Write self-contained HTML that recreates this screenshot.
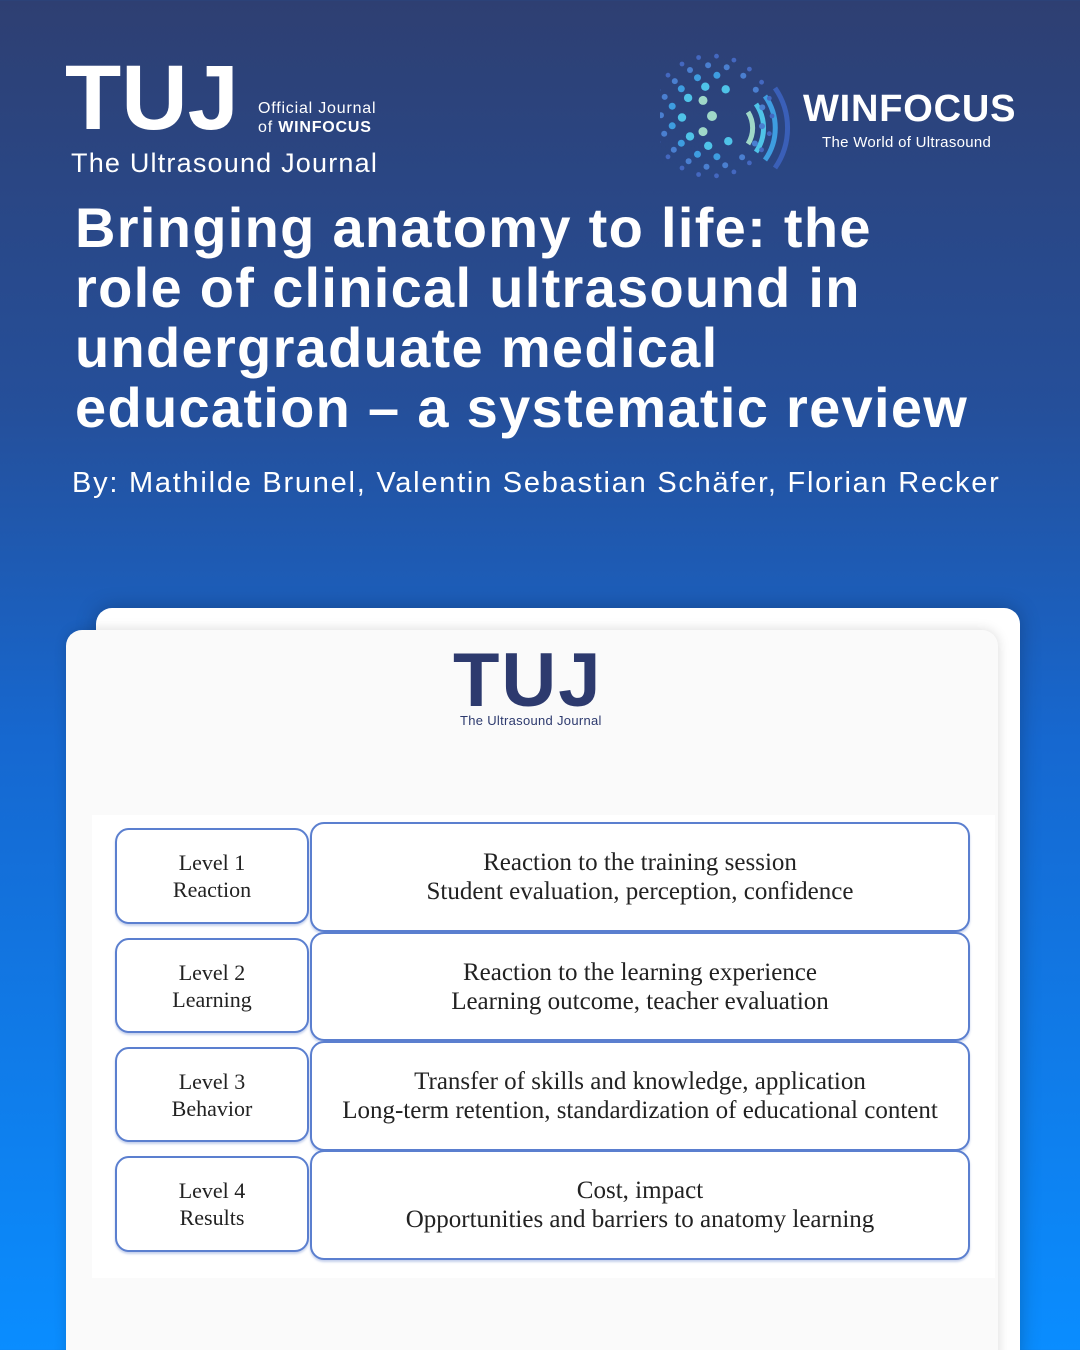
<!DOCTYPE html>
<html><head><meta charset="utf-8">
<style>
*{margin:0;padding:0;box-sizing:border-box}
html{width:1080px;height:1350px;overflow:hidden}
body{width:1080px;height:1350px;overflow:hidden;position:relative;font-family:"Liberation Sans",sans-serif;
background:linear-gradient(180deg,#2e3f72 0%,#254f9a 30%,#1668d0 55%,#0a8dff 100%);color:#fff}
.abs{position:absolute;white-space:nowrap}
.tuj{left:65px;top:52px;font-size:92px;font-weight:bold;letter-spacing:0px;line-height:1}
.off{left:258px;top:99px;font-size:16px;line-height:19px;letter-spacing:0.8px}
.sub{left:71px;top:148px;font-size:27px;letter-spacing:1.2px}
.win{left:803px;top:88px;font-size:38px;font-weight:bold;letter-spacing:0.8px}
.wsub{left:822px;top:134px;font-size:15px;letter-spacing:0.3px}
.title{left:75px;top:198px;font-size:56px;font-weight:bold;line-height:60px;letter-spacing:1.3px}
.auth{left:72px;top:467px;font-size:29px;letter-spacing:1.75px}
.card2{left:96px;top:608px;width:924px;height:760px;background:#fff;border-radius:16px;box-shadow:0 0 20px rgba(0,0,0,.25)}
.card1{left:66px;top:630px;width:932px;height:760px;background:#fafafa;border-radius:16px;box-shadow:0 0 12px rgba(0,0,0,.15)}
.inner{left:92px;top:815px;width:903px;height:463px;background:#fff}
.lt{left:453px;top:643px;font-size:76px;font-weight:bold;color:#2d3a6e;letter-spacing:2px;line-height:1}
.ls{left:460px;top:713px;font-size:13px;color:#2d3a6e;letter-spacing:0.3px}
.box{position:absolute;border:2px solid #5b7fcf;border-radius:14px;background:#fff;display:flex;align-items:center;justify-content:center;text-align:center;font-family:"Liberation Serif",serif;color:#222;font-size:25px;line-height:29px;box-shadow:0 2px 2px rgba(90,120,200,.35)}
.l{left:115px;width:194px;font-size:22px;line-height:27px}
.r{left:310px;width:660px}
</style></head><body>
<div class="abs tuj">TUJ</div>
<div class="abs off">Official Journal<br>of <b>WINFOCUS</b></div>
<div class="abs sub">The Ultrasound Journal</div>
<svg class="abs" style="left:660px;top:50px" width="140" height="135" id="dots">
<path d="M115 38 A70 70 0 0 1 115 118" stroke="#3a5fb8" stroke-width="5" fill="none"/>
<path d="M105 46 A55 55 0 0 1 105 110" stroke="#3e9de0" stroke-width="5" fill="none"/>
<path d="M96 54 A42 42 0 0 1 96 102" stroke="#4fc3e8" stroke-width="5" fill="none"/>
<path d="M88 62 A30 30 0 0 1 88 94" stroke="#9fd8c8" stroke-width="5" fill="none"/>
</svg>
<div class="abs win">WINFOCUS</div>
<div class="abs wsub">The World of Ultrasound</div>
<div class="abs title">Bringing anatomy to life: the<br>role of clinical ultrasound in<br>undergraduate medical<br>education – a systematic review</div>
<div class="abs auth">By: Mathilde Brunel, Valentin Sebastian Schäfer, Florian Recker</div>
<div class="abs card2"></div>
<div class="abs card1"></div>
<div class="abs inner"></div>
<div class="abs lt">TUJ</div>
<div class="abs ls">The Ultrasound Journal</div>
<div class="box l" style="top:828px;height:96px">Level 1<br>Reaction</div>
<div class="box r" style="top:822px;height:110px">Reaction to the training session<br>Student evaluation, perception, confidence</div>
<div class="box l" style="top:938px;height:95px">Level 2<br>Learning</div>
<div class="box r" style="top:932px;height:109px">Reaction to the learning experience<br>Learning outcome, teacher evaluation</div>
<div class="box l" style="top:1047px;height:95px">Level 3<br>Behavior</div>
<div class="box r" style="top:1041px;height:110px">Transfer of skills and knowledge, application<br>Long-term retention, standardization of educational content</div>
<div class="box l" style="top:1156px;height:96px">Level 4<br>Results</div>
<div class="box r" style="top:1150px;height:110px">Cost, impact<br>Opportunities and barriers to anatomy learning</div>
<script>
var s=document.getElementById('dots'),cx=52,cy=66,h='';
var rings=[[18,3,4.5,'#9fd8c8',0],[30,9,4.2,'#4fc3e8',0.3],[41,13,3.5,'#3e9de0',0],[51,17,3,'#4a7fd0',0.2],[60,21,2.4,'#4468c0',0]];
rings.forEach(function(r){for(var i=0;i<r[1];i++){var a=r[4]+i*2*Math.PI/r[1];var x=cx+r[0]*Math.cos(a),y=cy+r[0]*Math.sin(a);if(Math.cos(a)>0.55&&r[0]<45)continue;h+='<circle cx="'+x.toFixed(1)+'" cy="'+y.toFixed(1)+'" r="'+r[2]+'" fill="'+r[3]+'"/>';}});
h+='<circle cx="52" cy="66" r="5" fill="#9fd8c8"/>';
s.innerHTML+=h;
</script>
</body></html>
